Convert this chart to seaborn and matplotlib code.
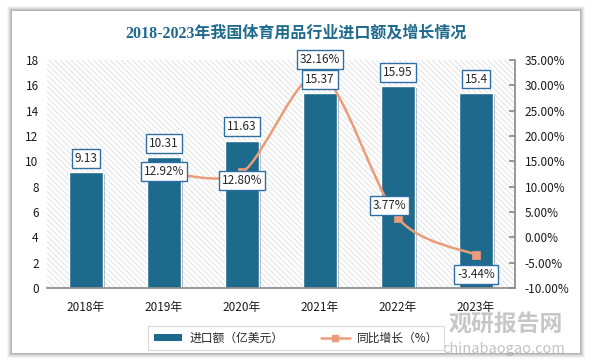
import numpy as np
import pandas as pd
import matplotlib
matplotlib.use("Agg")
import matplotlib.pyplot as plt
import seaborn as sns
from matplotlib.patches import Rectangle
from matplotlib.path import Path
from matplotlib.patches import PathPatch
from matplotlib.lines import Line2D
import matplotlib.patheffects as pe

# data
years = ["2018年", "2019年", "2020年", "2021年", "2022年", "2023年"]
import_value = [9.13, 10.31, 11.63, 15.37, 15.95, 15.4]
growth_pct = [None, 12.92, 12.80, 32.16, 3.77, -3.44]
left_ticks = [0, 2, 4, 6, 8, 10, 12, 14, 16, 18]
right_ticks = [-10, -5, 0, 5, 10, 15, 20, 25, 30, 35]

bar_color = "#1e6a8d"
line_color = "#eb9c78"
box_edge = "#2f6ea3"

sns.set_theme(style="white")
plt.rcParams["font.family"] = ["Noto Sans CJK SC", "DejaVu Sans"]
plt.rcParams["hatch.color"] = "#dedede"
plt.rcParams["hatch.linewidth"] = 0.6

df = pd.DataFrame({"year": years, "value": import_value})

fig = plt.figure(figsize=(5.92, 3.64), dpi=100)
fig.patch.set_facecolor("white")

# card with soft shadow
W, H = 592, 364
for i, a in enumerate([0.04, 0.05, 0.06, 0.08, 0.10]):
    d = 5 - i
    fig.patches.append(Rectangle(((12 - d) / W, (11 - d) / H), (568 + 2 * d) / W, (342 + 2 * d) / H,
                                 transform=fig.transFigure, fc="black", ec="none", alpha=a, zorder=-3))
fig.patches.append(Rectangle((12 / W, 11 / H), 568 / W, 342 / H, transform=fig.transFigure,
                             fc="white", ec="none", zorder=-2))

ax = fig.add_axes([47 / W, 1 - 288 / H, 468 / W, 228 / H])
ax.set_facecolor("none")
ax.add_patch(Rectangle((0, 0), 1, 1, transform=ax.transAxes, fc="white", ec="#dedede",
                       lw=0, hatch="\\\\\\\\\\\\", zorder=0))

sns.barplot(data=df, x="year", y="value", color=bar_color, width=0.43, ax=ax,
            edgecolor="white", linewidth=1.0, saturation=1, zorder=2)
for p in ax.patches[1:]:
    p.set_path_effects([pe.SimplePatchShadow(offset=(1.5, -1.5), alpha=0.35), pe.Normal()])

ax.set_ylim(0, 18)
ax.set_yticks(left_ticks)
ax.set_xlim(-0.5, 5.5)
ax.set_xlabel("")
ax.set_ylabel("")
for s in ["top", "right", "left"]:
    ax.spines[s].set_visible(False)
ax.spines["bottom"].set_color("#8c8c8c")
ax.tick_params(axis="y", length=0, labelsize=8.5, pad=6, colors="#1a1a1a")
ax.tick_params(axis="x", length=0, labelsize=8.5, pad=9, colors="#1a1a1a")

# growth line on the right axis
ax2 = ax.twinx()
ax2.set_ylim(-10, 35)
ax2.set_yticks(right_ticks)
ax2.set_yticklabels([f"{t:.2f}%" for t in right_ticks])
for s in ["top", "left", "bottom"]:
    ax2.spines[s].set_visible(False)
ax2.spines["right"].set_color("#8c8c8c")
ax2.tick_params(axis="y", direction="in", length=4, color="#8c8c8c", labelsize=8.5,
                pad=7, labelcolor="#1a1a1a")

gx = [i for i, g in enumerate(growth_pct) if g is not None]
gy = [g for g in growth_pct if g is not None]

# smooth curve through the points (Catmull-Rom as cubic Bezier segments)
pts = np.array(list(zip(gx, gy)), dtype=float)
verts = [tuple(pts[0])]
codes = [Path.MOVETO]
for k in range(len(pts) - 1):
    p0 = pts[k - 1] if k > 0 else pts[k]
    p1, p2 = pts[k], pts[k + 1]
    p3 = pts[k + 2] if k + 2 < len(pts) else pts[k + 1]
    c1 = p1 + (p2 - p0) / 7
    c2 = p2 - (p3 - p1) / 7
    verts += [tuple(c1), tuple(c2), tuple(p2)]
    codes += [Path.CURVE4] * 3
ax2.add_patch(PathPatch(Path(verts, codes), fc="none", ec=line_color, lw=1.8, zorder=3))
sns.scatterplot(x=gx, y=gy, marker="s", s=40, color=line_color, edgecolor=line_color,
                ax=ax2, zorder=4)

box = dict(boxstyle="square,pad=0.25", fc="white", ec=box_edge, lw=1)
# bar value labels (drawn on top axes so they sit above the line)
for i, v in enumerate(import_value):
    ax2.annotate(f"{v:g}", (i, v), xycoords=ax.transData, xytext=(0, 10), textcoords="offset points",
                 ha="center", va="center", fontsize=8.5, bbox=box, zorder=6)

offsets = {1: (0, 0), 2: (0, -6), 3: (0, 11), 4: (-6, 9), 5: (0, -14)}
for x, y in zip(gx, gy):
    ax2.annotate(f"{y:.2f}%", (x, y), xytext=offsets[x], textcoords="offset points",
                 ha="center", va="center", fontsize=8.5, bbox=box, zorder=7)

ax.set_zorder(1)
ax2.set_zorder(2)

fig.text(0.5, 1 - 34 / H, "2018-2023年我国体育用品行业进口额及增长情况", ha="center", va="center",
         fontsize=11.5, fontweight="bold", color="#1e6a8d",
         family=["Liberation Serif", "Noto Sans CJK SC"])

handles = [Rectangle((0, 0), 1, 1, fc=bar_color, ec="none"),
           Line2D([], [], color=line_color, lw=1.8, marker="s", ms=5)]
leg = fig.legend(handles, ["进口额（亿美元）", "同比增长（%）"], loc="center",
                 bbox_to_anchor=(0.5, 1 - 338 / H), ncol=2, fontsize=8.5, frameon=True,
                 fancybox=False, edgecolor="#d0d0d0", handlelength=2.4, handleheight=0.5,
                 columnspacing=3.2, borderpad=0.5, handletextpad=0.6)
leg.get_frame().set_linewidth(0.8)

# watermark
fig.text(506 / W, 1 - 325 / H, "观研报告网", ha="center", va="center", fontsize=16.5,
         fontweight="bold", color="#9a9a9a", alpha=0.55)
fig.text(504 / W, 1 - 349 / H, "chinabaogao.com", ha="center", va="center", fontsize=10.5,
         color="#9a9a9a", alpha=0.6)

fig.savefig("out.png", dpi=100)
